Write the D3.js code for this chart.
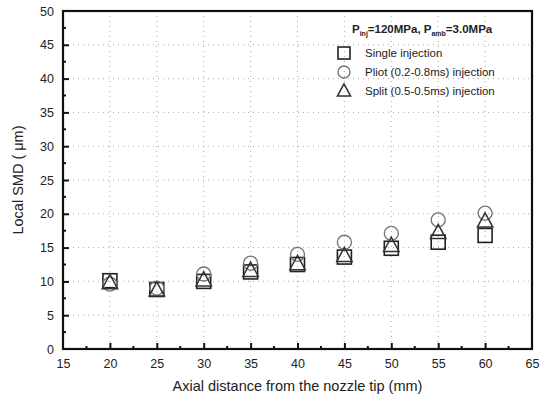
<!DOCTYPE html>
<html lang="en">
<head>
  <meta charset="utf-8">
  <script src="https://cdn.jsdelivr.net/npm/d3@7"></script>
  <style>
    body { margin: 0; background: #fff; overflow: hidden; }
    svg { display: block; }
    text { font-family: "Liberation Sans", Arial, sans-serif; fill: #222; }
  </style>
</head>
<body>
  <svg width="548" height="402" id="mainsvg"></svg>
  <script>
    // data
    const distances = [20, 25, 30, 35, 40, 45, 50, 55, 60];
    const singleSMD = [10.1, 8.8, 10.0, 11.4, 12.5, 13.6, 14.9, 15.8, 16.8];
    const pilotSMD = [9.6, 9.0, 11.1, 12.7, 14.0, 15.8, 17.1, 19.1, 20.1];
    const splitSMD = [9.8, 8.7, 10.2, 11.6, 12.6, 13.8, 15.3, 17.2, 18.9];
    const xTicks = [15, 20, 25, 30, 35, 40, 45, 50, 55, 60, 65];
    const yTicks = [0, 5, 10, 15, 20, 25, 30, 35, 40, 45, 50];
    const legendNames = ['Single injection', 'Pliot (0.2-0.8ms) injection', 'Split (0.5-0.5ms) injection'];

    const svg = d3.select('#mainsvg');
    const margin = { top: 11, right: 16, bottom: 53, left: 63 };
    const innerWidth = 548 - margin.left - margin.right;
    const innerHeight = 402 - margin.top - margin.bottom;

    const xScale = d3.scaleLinear().domain([15, 65]).range([0, innerWidth]);
    const yScale = d3.scaleLinear().domain([0, 50]).range([innerHeight, 0]);

    const g = svg.append('g').attr('transform', `translate(${margin.left}, ${margin.top})`);

    // dotted grid
    g.append('g').selectAll('line').data(xTicks.slice(1, -1)).join('line')
      .attr('x1', d => xScale(d)).attr('x2', d => xScale(d))
      .attr('y1', 0).attr('y2', innerHeight)
      .attr('stroke', '#aaa').attr('stroke-width', 1).attr('stroke-dasharray', '1,4');
    g.append('g').selectAll('line').data(yTicks.slice(1, -1)).join('line')
      .attr('y1', d => yScale(d)).attr('y2', d => yScale(d))
      .attr('x1', 0).attr('x2', innerWidth)
      .attr('stroke', '#aaa').attr('stroke-width', 1).attr('stroke-dasharray', '1,4');

    // axes, ticks pointing inward
    const xAxis = d3.axisBottom(xScale).tickValues(xTicks).tickSize(-6).tickPadding(10);
    const gx = g.append('g').attr('transform', `translate(0, ${innerHeight})`).call(xAxis);
    const yAxis = d3.axisLeft(yScale).tickValues(yTicks).tickSize(-6).tickPadding(9);
    const gy = g.append('g').call(yAxis);
    [gx, gy].forEach(ax => {
      ax.select('.domain').remove();
      ax.selectAll('.tick line').attr('stroke', '#111').attr('stroke-width', 2);
      ax.selectAll('.tick text').attr('font-size', '12.5px').attr('fill', '#333')
        .attr('font-family', '"Liberation Sans", Arial, sans-serif');
    });
    gx.selectAll('.tick').filter(d => d === 15 || d === 65).select('line').remove();
    gy.selectAll('.tick').filter(d => d === 0 || d === 50).select('line').remove();

    // minor ticks
    const xMinor = xTicks.slice(0, -1).map(d => d + 2.5);
    const yMinor = yTicks.slice(0, -1).map(d => d + 2.5);
    g.append('g').selectAll('line').data(xMinor).join('line')
      .attr('x1', d => xScale(d)).attr('x2', d => xScale(d))
      .attr('y1', innerHeight).attr('y2', innerHeight - 3)
      .attr('stroke', '#111').attr('stroke-width', 2);
    g.append('g').selectAll('line').data(yMinor).join('line')
      .attr('y1', d => yScale(d)).attr('y2', d => yScale(d))
      .attr('x1', 0).attr('x2', 3)
      .attr('stroke', '#111').attr('stroke-width', 2);

    // frame
    g.append('rect').attr('width', innerWidth).attr('height', innerHeight)
      .attr('fill', 'none').attr('stroke', '#111').attr('stroke-width', 2.2);

    // markers
    const triPath = (s) => `M0,${-s * 0.6}L${s * 0.55},${s * 0.42}L${-s * 0.55},${s * 0.42}Z`;

    const series = [
      { vals: singleSMD, kind: 'square', color: '#222' },
      { vals: pilotSMD, kind: 'circle', color: '#777' },
      { vals: splitSMD, kind: 'triangle', color: '#333' }
    ];

    function drawMarker(sel, kind, color, size) {
      if (kind === 'square') {
        sel.append('rect').attr('x', -size / 2).attr('y', -size / 2).attr('width', size).attr('height', size)
          .attr('fill', 'none').attr('stroke', color).attr('stroke-width', 1.6);
      } else if (kind === 'circle') {
        sel.append('circle').attr('r', size / 2)
          .attr('fill', 'none').attr('stroke', color).attr('stroke-width', 1.4);
      } else {
        sel.append('path').attr('d', triPath(size))
          .attr('fill', 'none').attr('stroke', color).attr('stroke-width', 1.5);
      }
    }

    series.forEach(s => {
      distances.forEach((d, i) => {
        const m = g.append('g').attr('transform', `translate(${xScale(d)}, ${yScale(s.vals[i])})`);
        drawMarker(m, s.kind, s.color, 14);
      });
    });

    // legend
    const lg = svg.append('g');
    const title = lg.append('text').attr('x', 352).attr('y', 33)
      .attr('font-size', '11.5px').attr('font-weight', 'bold');
    title.append('tspan').text('P');
    title.append('tspan').text('inj').attr('font-size', '7px').attr('dy', 3);
    title.append('tspan').text('=120MPa, P').attr('dy', -3);
    title.append('tspan').text('amb').attr('font-size', '7px').attr('dy', 3);
    title.append('tspan').text('=3.0MPa').attr('dy', -3);

    legendNames.forEach((name, i) => {
      const y = 53 + i * 19;
      const m = lg.append('g').attr('transform', `translate(344, ${y})`);
      drawMarker(m, series[i].kind, series[i].color, 12);
      lg.append('text').attr('x', 365).attr('y', y + 4).attr('font-size', '11.5px').text(name);
    });

    // axis titles
    svg.append('text').attr('x', margin.left + innerWidth / 2).attr('y', 391)
      .attr('text-anchor', 'middle').attr('font-size', '14.5px').text('Axial distance from the nozzle tip (mm)');
    svg.append('text').attr('transform', `translate(23, ${margin.top + innerHeight / 2}) rotate(-90)`)
      .attr('text-anchor', 'middle').attr('font-size', '14.5px').text('Local SMD ( μm)');
  </script>
</body>
</html>
